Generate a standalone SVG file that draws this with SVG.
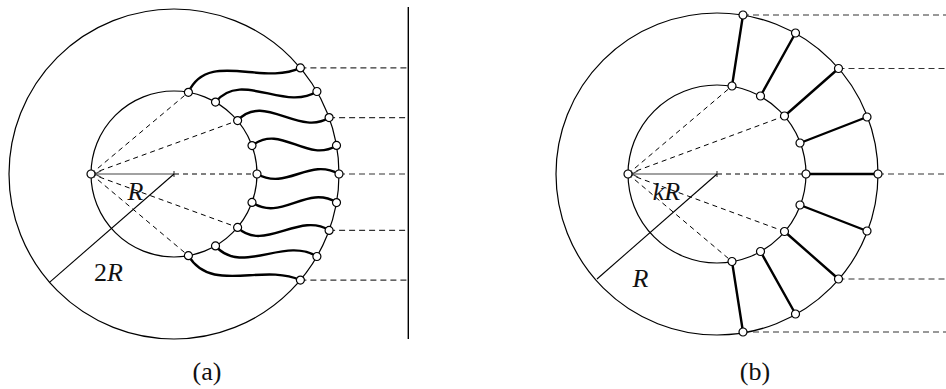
<svg xmlns="http://www.w3.org/2000/svg" width="946" height="389" viewBox="0 0 946 389">
<style>
.circ{fill:none;stroke:#000;stroke-width:1.2}
.thin{fill:none;stroke:#000;stroke-width:1.1}
.gray{fill:none;stroke:#444;stroke-width:1.2}
.dash{fill:none;stroke:#000;stroke-width:1;stroke-dasharray:5 4}
.hdash{fill:none;stroke:#333;stroke-width:1.1;stroke-dasharray:6 4}
.wave{fill:none;stroke:#000;stroke-width:2.4;stroke-linecap:round}
.node{fill:#fff;stroke:#000;stroke-width:1.2}
.lbl{font-family:"Liberation Serif","DejaVu Serif",serif;font-size:26px;fill:#111}
.it{font-style:italic}
</style>
<defs>
<circle id="nd" r="4" class="node"/>
</defs>

<!-- ===== Panel (a) ===== -->
<g id="panel-a">
<g id="a-circles">
<circle cx="174" cy="174" r="165" class="circ"/>
<circle cx="174" cy="174" r="83" class="circ"/>
<line x1="408.3" y1="7" x2="408.3" y2="339" stroke="#000" stroke-width="1.4"/>
</g>
<g id="a-connectors">
<line x1="91" y1="174" x2="188.4" y2="92.3" class="dash"/>
<line x1="91" y1="174" x2="237.6" y2="120.6" class="dash"/>
<line x1="91" y1="174" x2="237.6" y2="227.4" class="dash"/>
<line x1="91" y1="174" x2="188.4" y2="255.7" class="dash"/>
<line x1="174" y1="174" x2="257" y2="174" class="dash"/>
<line x1="300.4" y1="67.9" x2="408" y2="67.9" class="hdash"/>
<line x1="329.1" y1="117.6" x2="408" y2="117.6" class="hdash"/>
<line x1="339" y1="174" x2="408" y2="174" class="hdash"/>
<line x1="329.1" y1="230.4" x2="408" y2="230.4" class="hdash"/>
<line x1="300.4" y1="280.1" x2="408" y2="280.1" class="hdash"/>
<line x1="174" y1="174" x2="95" y2="174" class="gray"/>
<path d="M101,170.8 L95,174 L101,177.2" class="gray"/>
<line x1="174" y1="171" x2="174" y2="177" class="gray"/>
<line x1="174" y1="174" x2="49.5" y2="282.3" class="thin"/>
<path d="M188.4,92.3 C208,50 262,86 300.4,67.9" class="wave"/>
<path d="M215.5,102.1 C241,70 285,112 316.9,91.5" class="wave"/>
<path d="M237.6,120.6 C263,92 300,137 329.1,117.6" class="wave"/>
<path d="M252,145.6 C281,123 307,164 336.5,145.4" class="wave"/>
<path d="M257,174 C287,191 309,157 339,174" class="wave"/>
<path d="M252,202.4 C281,222 307,184 336.5,202.6" class="wave"/>
<path d="M237.6,227.4 C263,253 300,211 329.1,230.4" class="wave"/>
<path d="M215.5,245.9 C241,276 285,236 316.9,256.5" class="wave"/>
<path d="M188.4,255.7 C211,294 262,263 300.4,280.1" class="wave"/>
</g>
<g id="a-nodes">
<use href="#nd" x="91" y="174"/>
<use href="#nd" x="188.4" y="92.3"/>
<use href="#nd" x="215.5" y="102.1"/>
<use href="#nd" x="237.6" y="120.6"/>
<use href="#nd" x="252" y="145.6"/>
<use href="#nd" x="257" y="174"/>
<use href="#nd" x="252" y="202.4"/>
<use href="#nd" x="237.6" y="227.4"/>
<use href="#nd" x="215.5" y="245.9"/>
<use href="#nd" x="188.4" y="255.7"/>
<use href="#nd" x="300.4" y="67.9"/>
<use href="#nd" x="316.9" y="91.5"/>
<use href="#nd" x="329.1" y="117.6"/>
<use href="#nd" x="336.5" y="145.4"/>
<use href="#nd" x="339" y="174"/>
<use href="#nd" x="336.5" y="202.6"/>
<use href="#nd" x="329.1" y="230.4"/>
<use href="#nd" x="316.9" y="256.5"/>
<use href="#nd" x="300.4" y="280.1"/>
</g>
<g id="a-labels">
<text x="135.5" y="200" class="lbl it" text-anchor="middle">R</text>
<text x="108.5" y="281" class="lbl" text-anchor="middle">2<tspan class="it">R</tspan></text>
<text x="207" y="380" class="lbl" text-anchor="middle">(a)</text>
</g>
</g>

<!-- ===== Panel (b) ===== -->
<g id="panel-b">
<g id="b-circles">
<circle cx="717" cy="174" r="161" class="circ"/>
<circle cx="717" cy="174" r="89" class="circ"/>
</g>
<g id="b-connectors">
<line x1="628" y1="174" x2="732" y2="86" class="dash"/>
<line x1="628" y1="174" x2="784.5" y2="116" class="dash"/>
<line x1="628" y1="174" x2="784.5" y2="231.5" class="dash"/>
<line x1="628" y1="174" x2="732" y2="261.5" class="dash"/>
<line x1="717" y1="174" x2="806" y2="174" class="dash"/>
<line x1="743" y1="15" x2="946" y2="15" class="hdash"/>
<line x1="838.5" y1="68.5" x2="946" y2="68.5" class="hdash"/>
<line x1="878" y1="174" x2="946" y2="174" class="hdash"/>
<line x1="838.5" y1="279" x2="946" y2="279" class="hdash"/>
<line x1="743" y1="332" x2="946" y2="332" class="hdash"/>
<line x1="717" y1="174" x2="632" y2="174" class="gray"/>
<path d="M638,170.8 L632,174 L638,177.2" class="gray"/>
<line x1="717" y1="171" x2="717" y2="177" class="gray"/>
<line x1="717" y1="174" x2="597" y2="279" class="thin"/>
<line x1="732" y1="86" x2="743" y2="15" class="wave"/>
<line x1="760.5" y1="96" x2="795.5" y2="33" class="wave"/>
<line x1="784.5" y1="116" x2="838.5" y2="68.5" class="wave"/>
<line x1="800" y1="143" x2="867" y2="117" class="wave"/>
<line x1="806" y1="174" x2="878" y2="174" class="wave"/>
<line x1="800" y1="205" x2="867" y2="231" class="wave"/>
<line x1="784.5" y1="231.5" x2="838.5" y2="279" class="wave"/>
<line x1="760.5" y1="251.5" x2="795.5" y2="314" class="wave"/>
<line x1="732" y1="261.5" x2="743" y2="332" class="wave"/>
</g>
<g id="b-nodes">
<use href="#nd" x="628" y="174"/>
<use href="#nd" x="732" y="86"/>
<use href="#nd" x="760.5" y="96"/>
<use href="#nd" x="784.5" y="116"/>
<use href="#nd" x="800" y="143"/>
<use href="#nd" x="806" y="174"/>
<use href="#nd" x="800" y="205"/>
<use href="#nd" x="784.5" y="231.5"/>
<use href="#nd" x="760.5" y="251.5"/>
<use href="#nd" x="732" y="261.5"/>
<use href="#nd" x="743" y="15"/>
<use href="#nd" x="795.5" y="33"/>
<use href="#nd" x="838.5" y="68.5"/>
<use href="#nd" x="867" y="117"/>
<use href="#nd" x="878" y="174"/>
<use href="#nd" x="867" y="231"/>
<use href="#nd" x="838.5" y="279"/>
<use href="#nd" x="795.5" y="314"/>
<use href="#nd" x="743" y="332"/>
</g>
<g id="b-labels">
<text x="666.5" y="200" class="lbl it" text-anchor="middle">kR</text>
<text x="640.5" y="286.5" class="lbl it" text-anchor="middle">R</text>
<text x="755" y="380" class="lbl" text-anchor="middle">(b)</text>
</g>
</g>
</svg>
